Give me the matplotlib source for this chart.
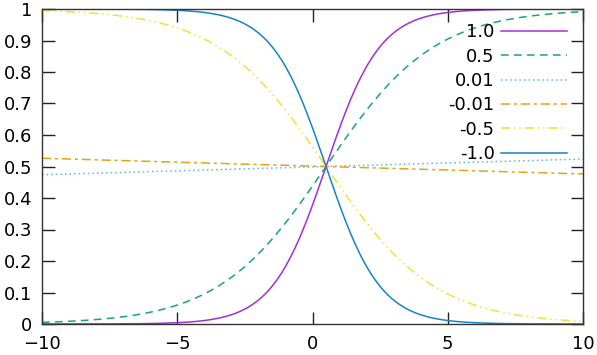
import numpy as np
import matplotlib
matplotlib.use("Agg")
import matplotlib.pyplot as plt

# ロジスティック曲線 y = 1/(1+exp(-a(x-x0)))
slopes = [1.0, 0.5, 0.01, -0.01, -0.5, -1.0]
labels = ["1.0", "0.5", "0.01", "-0.01", "-0.5", "-1.0"]
center = 0.5
colors = ["#a030dc", "#19a47a", "#5ab8ea", "#e8a214", "#f0e236", "#1783c4"]
dashes = ["-", (0, (5, 3.5)), (0, (1, 2)), (0, (6, 2.5, 2, 2.5)),
          (0, (6, 2.5, 1, 2.5, 1, 2.5)), "-"]

x = np.linspace(-10, 10, 801)

fig = plt.figure(figsize=(5.97, 3.55), dpi=100)
ax = fig.add_axes([42/597, 1 - 324/355, (583-42)/597, (324-9)/355])

for a, lab, c, ls in zip(slopes, labels, colors, dashes):
    y = 1.0 / (1.0 + np.exp(-a * (x - center)))
    ax.plot(x, y, color=c, linestyle=ls, lw=1.1, label=lab)

ax.set_xlim(-10, 10)
ax.set_ylim(0, 1)
ax.set_xticks([-10, -5, 0, 5, 10])
ax.set_yticks(np.arange(0, 1.01, 0.1))
ax.set_yticklabels(["0", "0.1", "0.2", "0.3", "0.4", "0.5", "0.6", "0.7", "0.8", "0.9", "1"])
ax.tick_params(direction="in", length=9, width=1, top=True, right=True,
               labelsize=13, colors="#222222", labelcolor="black")
ax.tick_params(axis="y", pad=7)
ax.tick_params(axis="x", pad=8)
for s in ax.spines.values():
    s.set_linewidth(1)
    s.set_color("#333333")

leg = ax.legend(loc="upper right", markerfirst=False, frameon=False,
                fontsize=13, handlelength=3.65, labelspacing=0.35,
                handletextpad=0.35, borderaxespad=0, borderpad=0,
                bbox_to_anchor=(0.970, 0.954))

fig.savefig("out.png", dpi=100)
